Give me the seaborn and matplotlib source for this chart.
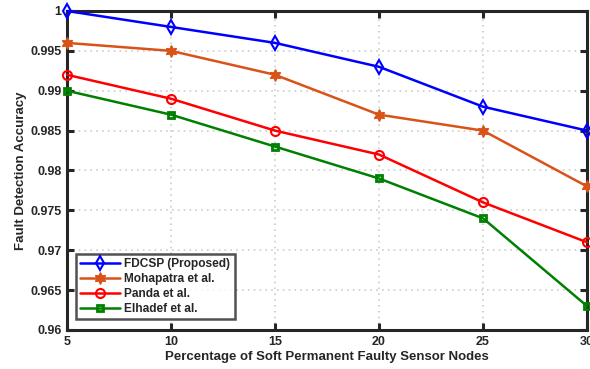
import matplotlib
matplotlib.use("Agg")
import matplotlib.pyplot as plt
import seaborn as sns
import pandas as pd
from matplotlib.ticker import FuncFormatter

x_vals = [5, 10, 15, 20, 25, 30]
fdcsp = [1.000, 0.998, 0.996, 0.993, 0.988, 0.985]
mohapatra = [0.996, 0.995, 0.992, 0.987, 0.985, 0.978]
panda = [0.992, 0.989, 0.985, 0.982, 0.976, 0.971]
elhadef = [0.990, 0.987, 0.983, 0.979, 0.974, 0.963]
series_names = ["FDCSP (Proposed)", "Mohapatra et al.", "Panda et al.", "Elhadef et al."]
y_ticks = [0.96, 0.965, 0.97, 0.975, 0.98, 0.985, 0.99, 0.995, 1.0]

sns.set_style("white")
plt.rcParams['font.family'] = ['Liberation Sans', 'DejaVu Sans']
plt.rcParams['font.weight'] = 'bold'

fig = plt.figure(figsize=(5.9, 3.69), dpi=100)
ax = fig.add_axes([0.1136, 0.1057, 0.8814, 0.8645])

styles = [
    dict(color="#0000FF", marker="d", ms=7.5, mfc="none", mew=1.5),
    dict(color="#D95319", marker=(6, 1, 0), ms=8.5, mfc="#D95319", mew=1.0),
    dict(color="#FF0000", marker="o", ms=6.5, mfc="none", mew=1.5),
    dict(color="#008000", marker="s", ms=5, mfc="none", mew=2.0),
]
data = [fdcsp, mohapatra, panda, elhadef]
for name, vals, st in zip(series_names, data, styles):
    df = pd.DataFrame({"x": x_vals, "y": vals})
    sns.lineplot(data=df, x="x", y="y", ax=ax, label=name, color=st["color"],
                 marker=st["marker"], markersize=st["ms"], markerfacecolor=st["mfc"],
                 markeredgecolor=st["color"], markeredgewidth=st["mew"], linewidth=1.8,
                 clip_on=False, zorder=5)

ax.set_xlim(5, 30)
ax.set_ylim(0.96, 1.0)
ax.set_xticks(x_vals)
ax.set_yticks(y_ticks)
ax.yaxis.set_major_formatter(FuncFormatter(lambda v, p: "%g" % round(v, 4)))
ax.grid(True, linestyle=(0, (1, 2.5)), color="#CCCCCC", linewidth=1.2)
for s in ax.spines.values():
    s.set_visible(True)
    s.set_linewidth(2.2)
    s.set_color("#262626")
ax.tick_params(direction="in", length=5, width=2.2, colors="#262626", labelsize=9,
               top=True, right=True, left=True, bottom=True, pad=4, labelcolor="#262626")
for lbl in ax.get_xticklabels() + ax.get_yticklabels():
    lbl.set_fontweight("bold")
ax.set_xlabel("Percentage of Soft Permanent Faulty Sensor Nodes", fontsize=9.5,
              fontweight="bold", color="#262626", labelpad=2.5)
ax.set_ylabel("Fault Detection Accuracy", fontsize=9.5, fontweight="bold",
              color="#262626", labelpad=2)

leg = ax.legend(loc="lower left", bbox_to_anchor=(0.006, 0.015), fontsize=8.6,
                frameon=True, fancybox=False, edgecolor="#262626", borderpad=0.35,
                labelspacing=0.25, handlelength=3.3, handletextpad=0.4)
leg.get_frame().set_linewidth(1.8)
for t in leg.get_texts():
    t.set_fontweight("bold")
    t.set_color("#262626")

fig.savefig("out.png", dpi=100)
